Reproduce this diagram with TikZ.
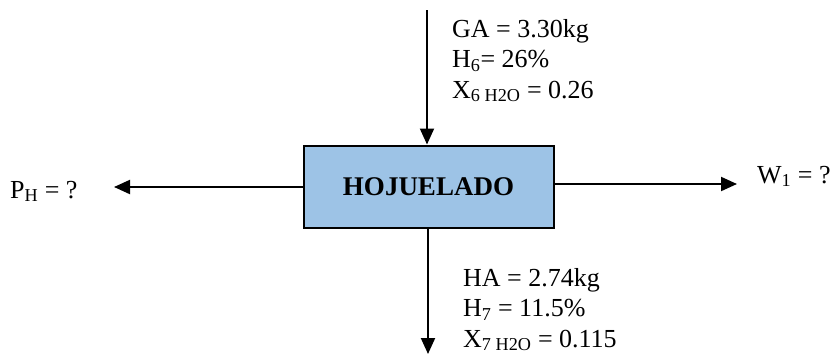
\documentclass[tikz,border=0pt]{standalone}
\usepackage{fontspec}
\setmainfont{Liberation Serif}
\usetikzlibrary{arrows.meta}
\begin{document}
\begin{tikzpicture}[x=1pt,y=-1pt,
  flow/.style={line width=2pt,-{Triangle[length=16pt,width=14pt]}},
  lbl/.style={font=\fontsize{26}{30.5}\selectfont,inner sep=0pt,anchor=base west,align=left},
  proc/.style={draw,line width=2pt,fill=procblue,minimum width=250pt,minimum height=82pt,inner sep=0pt,font=\fontsize{27}{30}\selectfont\bfseries}]
\definecolor{procblue}{HTML}{9DC3E6}
\useasboundingbox (0,0) rectangle (839,354);
\node[proc] (box) at (428.5,186.5) {HOJUELADO};
\coordinate (topin) at (427,10);
\coordinate (botout) at (428,354);
\coordinate (leftout) at (114,187);
\coordinate (rightout) at (737,184);
\draw[flow] (topin) -- (topin|-box.north);
\draw[flow] (box.south-|botout) -- (botout);
\draw[flow] (box.west|-leftout) -- (leftout);
\draw[flow] (box.east|-rightout) -- (rightout);
\node[lbl,anchor=north west] (gin) at (452,19) {GA = 3.30kg\\H\textsubscript{6}= 26\%\\X\textsubscript{6 H2O} = 0.26};
\node[lbl,anchor=north west] (hout) at (463,268) {HA = 2.74kg\\H\textsubscript{7} = 11.5\%\\X\textsubscript{7 H2O} = 0.115};
\node[lbl] (ph) at (10,198) {P\textsubscript{H} = ?};
\node[lbl] (w1) at (757,183) {W\textsubscript{1} = ?};
\end{tikzpicture}
\end{document}
